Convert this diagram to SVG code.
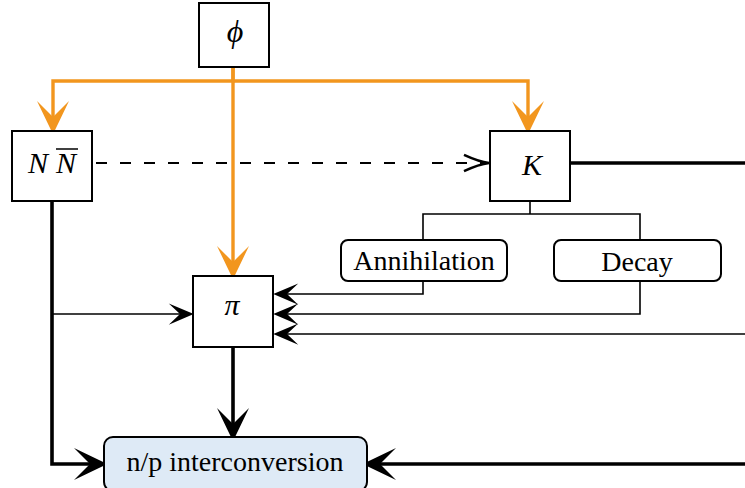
<svg xmlns="http://www.w3.org/2000/svg" width="745" height="488" viewBox="0 0 745 488">
<defs>
<style>
.box{fill:#fff;stroke:#000;stroke-width:2}
.lbl{font-family:"Liberation Serif","DejaVu Serif",serif;font-size:28px;fill:#000;text-anchor:middle}
.math{font-style:italic;font-size:30px}
.thin{fill:none;stroke:#000;stroke-width:1.6}
.thick{fill:none;stroke:#000;stroke-width:3.6}
.orange{fill:none;stroke:#f2961e;stroke-width:3.4}
.dash{fill:none;stroke:#000;stroke-width:2;stroke-dasharray:11 13}
</style>
<marker id="hThick" markerUnits="userSpaceOnUse" orient="auto" refX="0" refY="0" markerWidth="40" markerHeight="40" viewBox="-15 -15 30 30" overflow="visible">
<path d="M13,0 L-12,-12 L0,0 L-12,12 Z" fill="#000"/>
</marker>
<marker id="hOrange" markerUnits="userSpaceOnUse" orient="auto" refX="0" refY="0" markerWidth="40" markerHeight="40" viewBox="-15 -15 30 30" overflow="visible">
<path d="M13,0 L-12,-12 L0,0 L-12,12 Z" fill="#f2961e"/>
</marker>
<marker id="hThin" markerUnits="userSpaceOnUse" orient="auto" refX="0" refY="0" markerWidth="30" markerHeight="30" viewBox="-12 -12 24 24" overflow="visible">
<path d="M11,0 L-9,-8.5 L0,0 L-9,8.5 Z" fill="#000"/>
</marker>
<marker id="hOpen" markerUnits="userSpaceOnUse" orient="auto" refX="0" refY="0" markerWidth="30" markerHeight="30" viewBox="-12 -12 24 24" overflow="visible">
<path d="M-20,-6.5 Q-8,-1 0,0 Q-8,1 -20,6.5" fill="none" stroke="#000" stroke-width="2"/>
</marker>
</defs>

<g id="connectors">
<path class="orange" d="M233,67 V81 H53 V117" marker-end="url(#hOrange)"/>
<path class="orange" d="M233,81 H528 V117" marker-end="url(#hOrange)"/>
<path class="orange" d="M233,67 V262" marker-end="url(#hOrange)"/>
<path class="dash" d="M96,163 H489" marker-end="url(#hOpen)"/>
<path class="thick" d="M570,163 H745"/>
<path class="thin" d="M530,201 V214 M423,240 V214 H640 V240"/>
<path class="thin" d="M423,281 V294 H287" marker-end="url(#hThin)"/>
<path class="thin" d="M640,281 V314 H287" marker-end="url(#hThin)"/>
<path class="thin" d="M745,334 H287" marker-end="url(#hThin)"/>
<path class="thick" d="M52,201 V464 H90" marker-end="url(#hThick)"/>
<path class="thin" d="M52,314 H180" marker-end="url(#hThin)"/>
<path class="thick" d="M233,347 V424" marker-end="url(#hThick)"/>
<path class="thick" d="M745,464 H380" marker-end="url(#hThick)"/>
</g>

<g id="phi">
<rect class="box" x="199" y="3" width="70" height="64"/>
<text class="lbl math" x="235" y="42" style="font-size:32px">ϕ</text>
</g>
<g id="NNbar">
<rect class="box" x="12" y="131" width="80" height="70"/>
<text class="lbl math" x="38" y="173">N</text>
<text class="lbl math" x="66" y="173">N</text>
<line x1="56" y1="149" x2="78" y2="149" stroke="#000" stroke-width="1.5"/>
</g>
<g id="K">
<rect class="box" x="490" y="131" width="80" height="70"/>
<text class="lbl math" x="532" y="175">K</text>
</g>
<g id="pi">
<rect class="box" x="193" y="276" width="80" height="71"/>
<text class="lbl math" x="232" y="315">π</text>
</g>
<g id="annihilation">
<rect class="box" x="341" y="240" width="166" height="41" rx="7"/>
<text class="lbl" x="424" y="270">Annihilation</text>
</g>
<g id="decay">
<rect class="box" x="554" y="240" width="167" height="41" rx="7"/>
<text class="lbl" x="637" y="271">Decay</text>
</g>
<g id="np">
<rect class="box" x="104" y="437" width="263" height="54" rx="9" style="fill:#deeaf6"/>
<text class="lbl" x="235" y="471">n/p interconversion</text>
</g>
</svg>
